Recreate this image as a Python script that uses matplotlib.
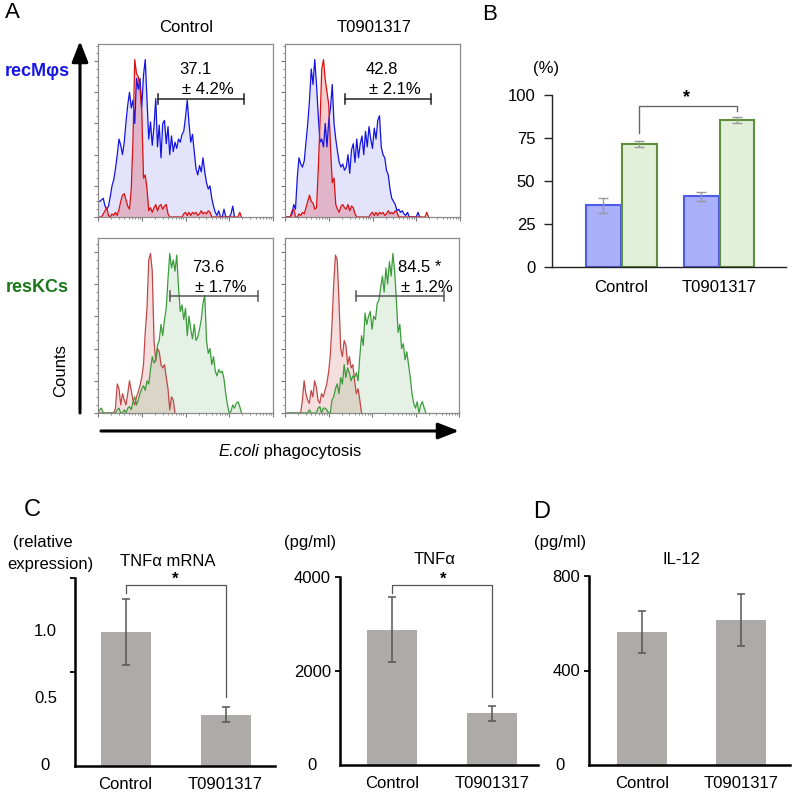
import numpy as np
import matplotlib
matplotlib.use("Agg")
import matplotlib.pyplot as plt
from matplotlib.patches import FancyArrowPatch
import matplotlib.transforms as mtransforms

plt.rcParams['font.family'] = ['Liberation Sans', 'DejaVu Sans']

# ---------------- DATA ----------------
groups = ['Control', 'T0901317']

# Panel A histograms (counts per channel, channel 0..100)
blue_ctrl = [10, 10, 11, 12, 7, 5, 7, 13, 20, 24, 31, 40, 50, 46, 40, 48, 61, 72, 80, 70,
             75, 60, 89, 82, 89, 70, 91, 101, 75, 50, 61, 46, 58, 76, 45, 59, 38, 60, 62, 47,
             58, 40, 52, 42, 48, 44, 50, 48, 53, 55, 64, 75, 60, 48, 53, 42, 31, 27, 33, 29,
             38, 29, 22, 18, 20, 12, 7, 3, 1, 4, 0, 0, 5, 0, 0, 0, 2, 7, 0]
red_ctrl_top = [0, 0, 0, 2, 4, 6, 1, 0, 2, 1, 3, 1, 5, 10, 14, 15, 11, 7, 5, 18,
                50, 101, 92, 90, 82, 68, 25, 27, 18, 4, 6, 3, 6, 8, 4, 7, 8, 5, 7, 8,
                2, 0, 0, 0, 0, 0, 0, 0, 0, 2, 3, 1, 3, 1, 3, 2, 3, 1, 2, 4,
                2, 3, 2, 4, 3, 0, 0, 0, 0, 0, 0, 0, 0, 0, 0, 0, 0, 0, 0, 0, 0, 3, 0]
blue_t = [0, 0, 0, 0, 2, 8, 5, 25, 38, 34, 32, 36, 48, 60, 75, 95, 85, 101, 85, 65,
          48, 50, 45, 60, 45, 62, 70, 85, 60, 50, 42, 35, 32, 34, 30, 32, 40, 28, 43, 47,
          35, 50, 38, 47, 52, 40, 55, 45, 58, 50, 44, 57, 50, 62, 65, 45, 40, 38, 30, 27,
          18, 12, 10, 8, 4, 5, 3, 4, 2, 1, 3, 0, 0, 0, 0, 0, 3, 0]
red_t_top = [0, 0, 0, 0, 4, 5, 0, 0, 2, 1, 3, 2, 6, 10, 14, 10, 9, 5, 6, 30,
             60, 95, 101, 88, 80, 72, 45, 22, 25, 8, 5, 3, 7, 8, 6, 5, 8, 4, 7, 6,
             2, 0, 0, 0, 0, 0, 0, 0, 0, 2, 3, 1, 3, 1, 3, 2, 3, 1, 2, 4,
             2, 3, 2, 4, 3, 0, 0, 0, 0, 0, 0, 0, 0, 0, 0, 0, 0, 0, 0, 0, 0, 3, 0]
green_ctrl = [0, 2, 3, 0, 0, 0, 0, 0, 0, 0, 0, 2, 3, 0, 0, 2, 0, 3, 4, 2,
              7, 10, 5, 8, 12, 15, 17, 14, 20, 18, 27, 35, 31, 33, 42, 45, 55, 48, 58, 65,
              83, 99, 90, 95, 88, 98, 78, 63, 67, 58, 65, 48, 60, 52, 46, 55, 45, 47, 52, 58,
              68, 73, 45, 37, 40, 30, 35, 26, 23, 27, 25, 26, 21, 12, 5, 0, 1, 5, 3, 6, 7, 4, 0]
red_ctrl_bot = [0, 0, 0, 0, 0, 0, 0, 0, 0, 0, 3, 18, 15, 5, 12, 8, 5, 12, 20, 14,
                8, 5, 10, 13, 17, 22, 30, 50, 65, 95, 99, 88, 45, 32, 40, 38, 30, 28, 30, 22,
                15, 2, 10, 8, 0]
green_t = [0, 0, 0, 0, 0, 0, 0, 0, 0, 0, 0, 0, 0, 0, 2, 0, 0, 0, 0, 3,
           4, 0, 3, 3, 2, 0, 0, 8, 10, 15, 18, 12, 22, 18, 30, 22, 28, 25, 20, 23,
           22, 25, 20, 35, 48, 42, 62, 55, 60, 63, 52, 60, 58, 68, 70, 78, 85, 75, 90, 80,
           94, 85, 99, 88, 70, 50, 55, 40, 43, 33, 38, 30, 22, 12, 6, 3, 7, 0, 5, 7, 3, 0]
red_t_bot = [0, 0, 0, 0, 0, 0, 0, 0, 0, 0, 8, 20, 12, 8, 6, 14, 10, 20, 16, 8,
             6, 12, 10, 14, 18, 25, 35, 55, 80, 98, 95, 70, 40, 35, 45, 42, 30, 35, 28, 30,
             20, 12, 15, 8, 0]

gate_top = (34.3, 83.4)
gate_bot = (41.0, 91.4)
pct_labels = [('37.1', '± 4.2%'), ('42.8', '± 2.1%'), ('73.6', '± 1.7%'), ('84.5 *', '± 1.2%')]

# Panel B
recM_pct = [35.8, 41.0]
recM_err = [4.4, 2.6]
resKC_pct = [71.5, 85.5]
resKC_err = [1.7, 1.8]

# Panel C
tnf_mrna = [1.0, 0.38]
tnf_mrna_err = [0.245, 0.056]
tnf_prot = [2880, 1100]
tnf_prot_err = [690, 160]
# Panel D
il12 = [563, 614]
il12_err = [89, 110]

# ---------------- LAYOUT ----------------
W = H = 793
fig = plt.figure(figsize=(7.93, 7.93), dpi=100)


def rect(x0, y0, x1, y1):
    return [x0 / W, 1 - y1 / H, (x1 - x0) / W, (y1 - y0) / H]


def fp(x, y):
    return (x / W, 1 - y / H)


def ftext(x, y, s, **kw):
    kw.setdefault('ha', 'center')
    kw.setdefault('va', 'center')
    kw.setdefault('fontsize', 12)
    fig.text(*fp(x, y), s, **kw)


# ---------------- PANEL A ----------------
def hist_panel(box, fills, lines, ymax, gate, gy, gd, gcol):
    ax = fig.add_axes(rect(*box))
    for y, fc in fills:
        ax.fill_between(np.arange(len(y)), 0, y, color=fc, lw=0)
    for y, lc in lines:
        ax.plot(np.arange(len(y)), y, color=lc, lw=0.9)
    ax.set_xlim(0, 100)
    ax.set_ylim(0, ymax)
    for s in ax.spines.values():
        s.set_color('#8c8c8c')
        s.set_linewidth(0.9)
    major = [0, 25, 50, 75, 100]
    minor = [25 * d + 25 * np.log10(k) for d in range(4) for k in range(2, 10)]
    ax.set_xticks(major)
    ax.set_xticks(minor, minor=True)
    ax.set_yticks(np.arange(0, ymax, 20))
    ax.set_yticks(np.arange(0, ymax, 5), minor=True)
    ax.tick_params(which='both', labelbottom=False, labelleft=False, color='#777', direction='out')
    ax.tick_params(which='major', length=3, width=0.8)
    ax.tick_params(which='minor', length=1.5, width=0.6)
    g0, g1 = gate
    ax.plot([g0, g1], [gy, gy], color=gcol, lw=1.1)
    ax.plot([g0, g0], [gy - gd, gy + gd], color=gcol, lw=1.1)
    ax.plot([g1, g1], [gy - gd, gy + gd], color=gcol, lw=1.1)
    return ax


blue_fill = (0.0, 0.0, 0.9, 0.11)
red_fill = (0.85, 0.0, 0.0, 0.20)
red_fill_b = (0.75, 0.2, 0.2, 0.16)
green_fill = (0.2, 0.6, 0.2, 0.13)

hist_panel((98, 44, 273, 217), [(blue_ctrl, blue_fill), (red_ctrl_top, red_fill)],
           [(blue_ctrl, '#1414e0'), (red_ctrl_top, '#dd1010')], 111, gate_top, 75.7, 3.2, '#222')
hist_panel((285, 44, 460, 217), [(blue_t, blue_fill), (red_t_top, red_fill)],
           [(blue_t, '#1414e0'), (red_t_top, '#dd1010')], 111, gate_top, 75.7, 3.2, '#222')
hist_panel((98, 238, 273, 413), [(red_ctrl_bot, red_fill_b), (green_ctrl, green_fill)],
           [(red_ctrl_bot, '#c04848'), (green_ctrl, '#3c9c3c')], 108.6, gate_bot, 72.6, 3.1, '#555')
hist_panel((285, 238, 459, 413), [(red_t_bot, red_fill_b), (green_t, green_fill)],
           [(red_t_bot, '#c04848'), (green_t, '#3c9c3c')], 108.6, gate_bot, 72.6, 3.1, '#555')

# percentage labels
ftext(195, 69, pct_labels[0][0])
ftext(208, 90, pct_labels[0][1])
ftext(382, 69, pct_labels[1][0])
ftext(395, 90, pct_labels[1][1])
ftext(208, 268, pct_labels[2][0])
ftext(221, 288, pct_labels[2][1])
ftext(420, 268, pct_labels[3][0])
ftext(427, 288, pct_labels[3][1])

ftext(12, 13, 'A', fontsize=16)
ftext(186, 27, groups[0])
ftext(374, 27, groups[1])
ftext(37, 72, 'recMφs', fontsize=13, fontweight='bold', color='#1515e6')
ftext(37, 287, 'resKCs', fontsize=13, fontweight='bold', color='#187818')
ftext(61, 371, 'Counts', rotation=90)
fig.text(*fp(259, 451), 'E.coli', fontsize=12, style='italic', ha='right', va='center')
fig.text(*fp(259, 451), ' phagocytosis', fontsize=12, ha='left', va='center')

fig.add_artist(FancyArrowPatch(fp(80, 413), fp(80, 41), transform=fig.transFigure,
                               arrowstyle='-|>,head_length=0.9,head_width=0.35',
                               mutation_scale=14, lw=2.2, color='black', shrinkA=0, shrinkB=0))
fig.add_artist(FancyArrowPatch(fp(101, 431), fp(459, 431), transform=fig.transFigure,
                               arrowstyle='-|>,head_length=0.9,head_width=0.35',
                               mutation_scale=14, lw=2.2, color='black', shrinkA=0, shrinkB=0))

# ---------------- PANEL B ----------------
axB = fig.add_axes(rect(552, 95, 786, 267))
xB = np.arange(len(groups))
bw = 0.357
axB.bar(xB - 0.1786, recM_pct, width=bw, color='#aab0fa', edgecolor='#4f5ae8', lw=1.5, zorder=2)
axB.bar(xB + 0.184, resKC_pct, width=bw, color='#e3f0d9', edgecolor='#5e8f3e', lw=1.5, zorder=2)
axB.errorbar(xB - 0.1786, recM_pct, yerr=recM_err, fmt='none', ecolor='#999', elinewidth=1, capsize=3.5, capthick=1, zorder=3)
axB.errorbar(xB + 0.184, resKC_pct, yerr=resKC_err, fmt='none', ecolor='#999', elinewidth=1, capsize=3.5, capthick=1, zorder=3)
axB.set_xlim(-0.704, 1.684)
axB.set_ylim(0, 100)
axB.set_yticks([0, 25, 50, 75, 100])
axB.set_xticks(xB, groups)
axB.tick_params(axis='y', labelsize=12, length=6, width=1, pad=6, color='#222')
axB.tick_params(axis='x', labelsize=12, length=0, pad=9)
for s in ['top', 'right']:
    axB.spines[s].set_visible(False)
for s in ['left', 'bottom']:
    axB.spines[s].set_color('#222')
    axB.spines[s].set_linewidth(1)
axB.plot([0.184, 0.184, 1.184, 1.184], [78, 93.6, 93.6, 90.5], color='#666', lw=1, clip_on=False)
axB.text(0.673, 98.5, '*', ha='center', va='center', fontsize=13, fontweight='bold')
ftext(490, 15, 'B', fontsize=16)
ftext(546, 68, '(%)')


# ---------------- PANELS C, D ----------------
def bar_panel(box, vals, errs, xlim, ylim):
    ax = fig.add_axes(rect(*box))
    x = np.arange(len(groups))
    ax.bar(x, vals, width=0.5, color='#aeaaaa', zorder=2)
    ax.errorbar(x, vals, yerr=errs, fmt='none', ecolor='#555', elinewidth=1.1, capsize=3, capthick=1.1, zorder=3)
    ax.set_xlim(*xlim)
    ax.set_ylim(*ylim)
    ax.set_xticks(x, groups)
    ax.tick_params(axis='x', labelsize=12, length=0, pad=8)
    ax.tick_params(axis='y', labelsize=12, length=3.5, width=1.3, pad=3, direction='out')
    for s in ['top', 'right']:
        ax.spines[s].set_visible(False)
    for s in ['left', 'bottom']:
        ax.spines[s].set_linewidth(1.8)
        ax.spines[s].set_color('black')
    return ax


axC1 = bar_panel((75, 578, 275, 766), tnf_mrna, tnf_mrna_err, (-0.505, 1.495), (0, 1.4))
axC1.set_yticks([0.7, 1.4], ['', ''])
tr = mtransforms.blended_transform_factory(axC1.transAxes, axC1.transData)
axC1.text(-0.09, 1.0, '1.0', transform=tr, ha='right', va='center', fontsize=12)
axC1.text(-0.09, 0.5, '0.5', transform=tr, ha='right', va='center', fontsize=12)
axC1.text(-0.125, 0.0, '0', transform=tr, ha='right', va='center', fontsize=12)
axC1.plot([0, 0, 1, 1], [1.29, 1.348, 1.348, 0.514], color='#555', lw=0.9, clip_on=False)
ftext(175, 579, '*', fontsize=12, fontweight='bold')
ftext(168, 562, 'TNFα mRNA')
ftext(43, 543, '(relative')
ftext(50, 565, 'expression)')
ftext(32, 510, 'C', fontsize=17)

axC2 = bar_panel((340, 577, 538, 765), tnf_prot, tnf_prot_err, (-0.52, 1.46), (0, 4000))
axC2.set_yticks([2000, 4000], ['2000', '4000'])
tr2 = mtransforms.blended_transform_factory(axC2.transAxes, axC2.transData)
axC2.text(-0.116, 0, '0', transform=tr2, ha='right', va='center', fontsize=12)
axC2.plot([0, 0, 1, 1], [3660, 3830, 3830, 1447], color='#555', lw=0.9, clip_on=False)
ftext(443, 579, '*', fontsize=12, fontweight='bold')
ftext(435, 560, 'TNFα')
ftext(310, 543, '(pg/ml)')

axD = bar_panel((589, 576, 790, 765), il12, il12_err, (-0.535, 1.495), (0, 800))
axD.set_yticks([400, 800], ['400', '800'])
trD = mtransforms.blended_transform_factory(axD.transAxes, axD.transData)
axD.text(-0.12, 0, '0', transform=trD, ha='right', va='center', fontsize=12)
ftext(681, 560, 'IL-12')
ftext(560, 543, '(pg/ml)')
ftext(542, 512, 'D', fontsize=17)

fig.savefig('out.png', dpi=100)
